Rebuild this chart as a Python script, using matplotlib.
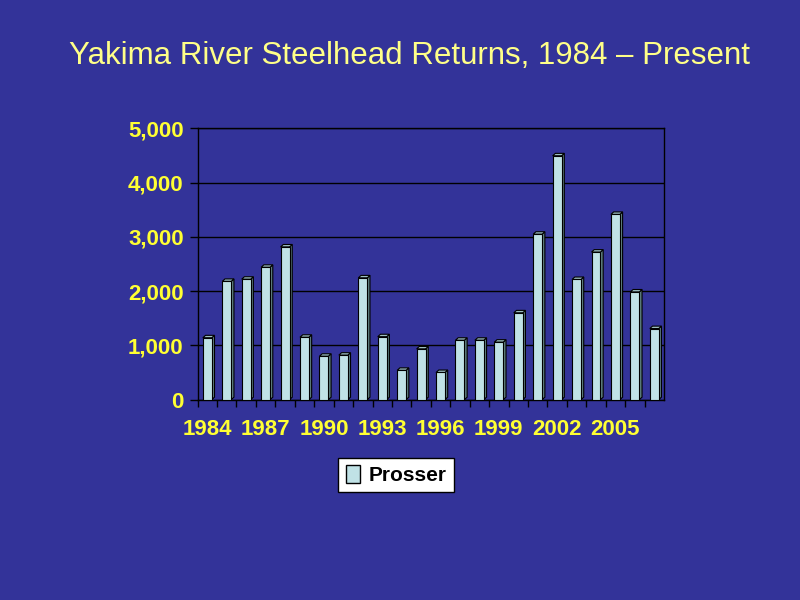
#!/usr/bin/env python3

import numpy as np
import matplotlib
matplotlib.use("Agg")
import matplotlib.pyplot as plt
from matplotlib.patches import Polygon, Patch

years = list(range(1984, 2008))
prosser = [1140, 2180, 2220, 2440, 2815, 1150, 800, 820, 2245, 1160,
           540, 935, 500, 1095, 1095, 1060, 1600, 3050, 4495, 2215,
           2720, 3415, 1985, 1310]
tick_years = [1984, 1987, 1990, 1993, 1996, 1999, 2002, 2005]

bg = "#333399"
title_yellow = "#FFFF88"
yellow = "#FFFF33"
face = "#C0E2E6"
side = "#5F7F80"
top = "#9DBFC2"

plt.rcParams['font.family'] = ['Liberation Sans', 'DejaVu Sans']

fig = plt.figure(figsize=(8, 6), dpi=100, facecolor=bg)
ax = fig.add_axes([0.247, 0.334, 0.583, 0.452])
ax.set_facecolor(bg)

x = np.arange(len(years))
width = 0.46
dx = 0.14   # depth offset in category units
dy = 45     # depth offset in data units

for xi, h in zip(x, prosser):
    x0 = xi - width / 2
    x1 = xi + width / 2
    ax.add_patch(Polygon([(x1, 0), (x1 + dx, dy), (x1 + dx, h + dy), (x1, h)],
                         closed=True, facecolor=side, edgecolor="black", lw=0.8, zorder=3))
    ax.add_patch(Polygon([(x0, h), (x0 + dx, h + dy), (x1 + dx, h + dy), (x1, h)],
                         closed=True, facecolor=top, edgecolor="black", lw=0.8, zorder=3))
ax.bar(x, prosser, width=width, color=face, edgecolor="black", linewidth=0.8, zorder=4)

ax.set_xlim(-0.5, len(years) - 0.5)
ax.set_ylim(0, 5000)
ax.set_yticks(range(0, 5001, 1000))
ax.set_yticklabels([f"{v:,}" for v in range(0, 5001, 1000)])
ax.yaxis.grid(True, color="black", linewidth=1.0, zorder=0)
ax.set_axisbelow(True)

ax.set_xticks(x - 0.5, minor=True)
ax.set_xticks([years.index(y) for y in tick_years])
ax.set_xticklabels([str(y) for y in tick_years])
ax.tick_params(axis="x", which="major", length=0, pad=14)
ax.tick_params(axis="x", which="minor", length=5, color="black", width=1)
ax.tick_params(axis="y", length=6, color="black", width=1, pad=4)
for lab in ax.get_xticklabels() + ax.get_yticklabels():
    lab.set_color(yellow)
    lab.set_fontsize(16)
    lab.set_fontweight("bold")

for s in ["left", "bottom", "right", "top"]:
    ax.spines[s].set_color("black")
    ax.spines[s].set_linewidth(1.0)

fig.text(0.512, 0.907, "Yakima River Steelhead Returns, 1984 \u2013 Present",
         color=title_yellow, fontsize=22.5, ha="center", va="center")

leg = fig.legend(handles=[Patch(facecolor=face, edgecolor="black", label="Prosser")],
                 loc="center", bbox_to_anchor=(0.495, 0.208), frameon=True,
                 fancybox=False, framealpha=1, handlelength=0.7, handleheight=0.9,
                 handletextpad=0.4, borderpad=0.35,
                 prop={"weight": "bold", "size": 15})
leg.get_frame().set_edgecolor("black")
leg.get_frame().set_facecolor("white")
leg.get_frame().set_linewidth(1.0)

fig.savefig("out.png", facecolor=bg)
